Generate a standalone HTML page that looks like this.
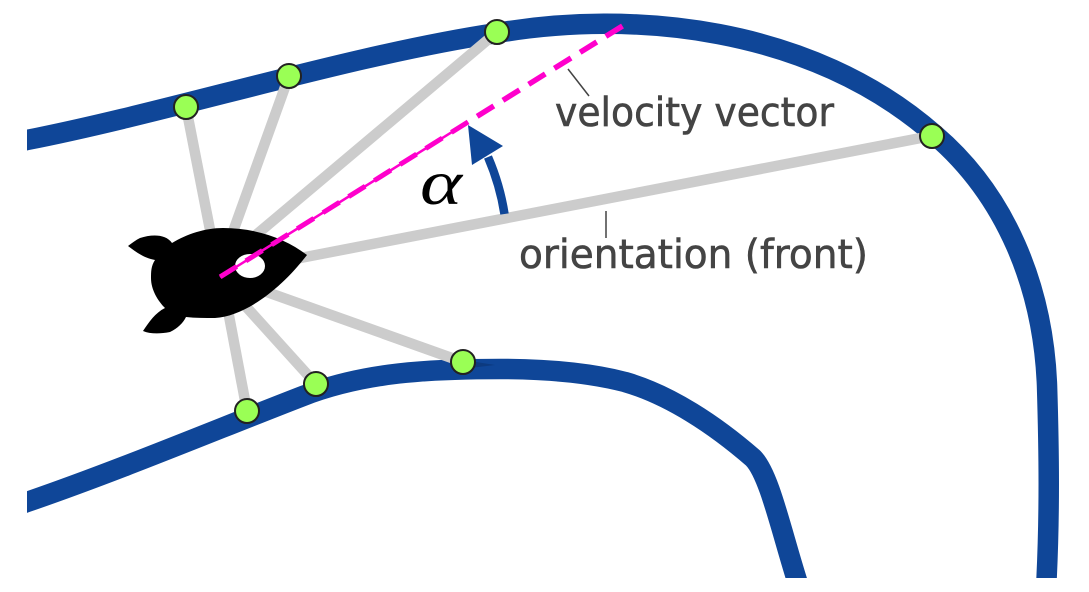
<!DOCTYPE html>
<html>
<head>
<meta charset="utf-8">
<style>
html,body{margin:0;padding:0;background:#fff;width:1089px;height:592px;overflow:hidden}
svg{display:block}
text{font-family:"DejaVu Sans","Liberation Sans",sans-serif;fill:#444;font-size:40px}
</style>
</head>
<body>
<svg width="1089" height="592" viewBox="0 0 1089 592" xmlns="http://www.w3.org/2000/svg">
<defs><clipPath id="c"><rect x="27" y="0" width="1062" height="578"/></clipPath></defs>
<g clip-path="url(#c)" fill="none" stroke="#0f4698" stroke-width="20.5">
<path d="M10 143.5 L27 140 C170 112 350 55 497 33 C630 10 810 25 935 135 C1005 195 1043 285 1047 385 C1049 450 1050 515 1046 590"/>
<path d="M10 508 L27 502 C120 470 220 428 303 396 C365 372 430 369 500 369 C545 369 590 373 625 382 C670 395 715 425 753 458 C770 475 782 535 800 590"/>
</g>
<polygon points="470,361 495,365 470,368" fill="#0c3a80"/>
<g stroke="#ccc" stroke-width="10.5" fill="none">
<path d="M186 107 L212 240"/>
<path d="M289 76 L230 240"/>
<path d="M497 32 L250 240"/>
<path d="M931 136 L290 260"/>
<path d="M463 362 L250 286"/>
<path d="M316 384 L240 300"/>
<path d="M247 411 L226 300"/>
</g>
<path d="M307 255 C285 238 255 228 223 228 C205 228 187 234 172 243 C166 234 152 234 140 238 C136 240 132 243 128 246 C136 252 144 258 155 260 C151 266 151 272 151 278 C151 290 158 301 165 308 C155 313 149 322 143 331 C150 334 160 334 170 332 C178 328 183 323 186 317 C195 318 205 318 215 318 C245 316 280 290 307 255 Z" fill="#000"/>
<ellipse cx="250" cy="266" rx="15" ry="12" fill="#fff"/>
<path d="M220 277 L468 122" stroke="#f0c" stroke-width="2.5" fill="none"/>
<path d="M622.5 26 L468 122" stroke="#f0c" stroke-width="5.5" fill="none" stroke-dasharray="19.6 10.7"/>
<path d="M468 122 L220 277" stroke="#f0c" stroke-width="5" fill="none" stroke-dasharray="19.6 10.7"/>
<path d="M504.5 214 Q500 185 488 157" stroke="#0f4698" stroke-width="8.5" fill="none"/>
<polygon points="468,125 503,146 472,165" fill="#0f4698"/>
<g stroke="#222" stroke-width="2" fill="#9aff55">
<circle cx="186" cy="107" r="12"/>
<circle cx="289" cy="76" r="12"/>
<circle cx="497" cy="32" r="12"/>
<circle cx="932" cy="136" r="12"/>
<circle cx="463" cy="362" r="12"/>
<circle cx="316" cy="384" r="12"/>
<circle cx="247" cy="411" r="12"/>
</g>
<path d="M568 69 L589 96 M606 211 L606 238" stroke="#444" stroke-width="1.5" fill="none"/>
<text x="555" y="126" textLength="279" lengthAdjust="spacingAndGlyphs" stroke="#444" stroke-width="0.6">velocity vector</text>
<text x="519" y="268" textLength="349" lengthAdjust="spacingAndGlyphs" stroke="#444" stroke-width="0.6">orientation (front)</text>
<text x="420" y="204" textLength="42" lengthAdjust="spacingAndGlyphs" style="font-family:'Liberation Serif',serif;font-style:italic;font-size:64px;fill:#000">α</text>
</svg>
</body>
</html>
